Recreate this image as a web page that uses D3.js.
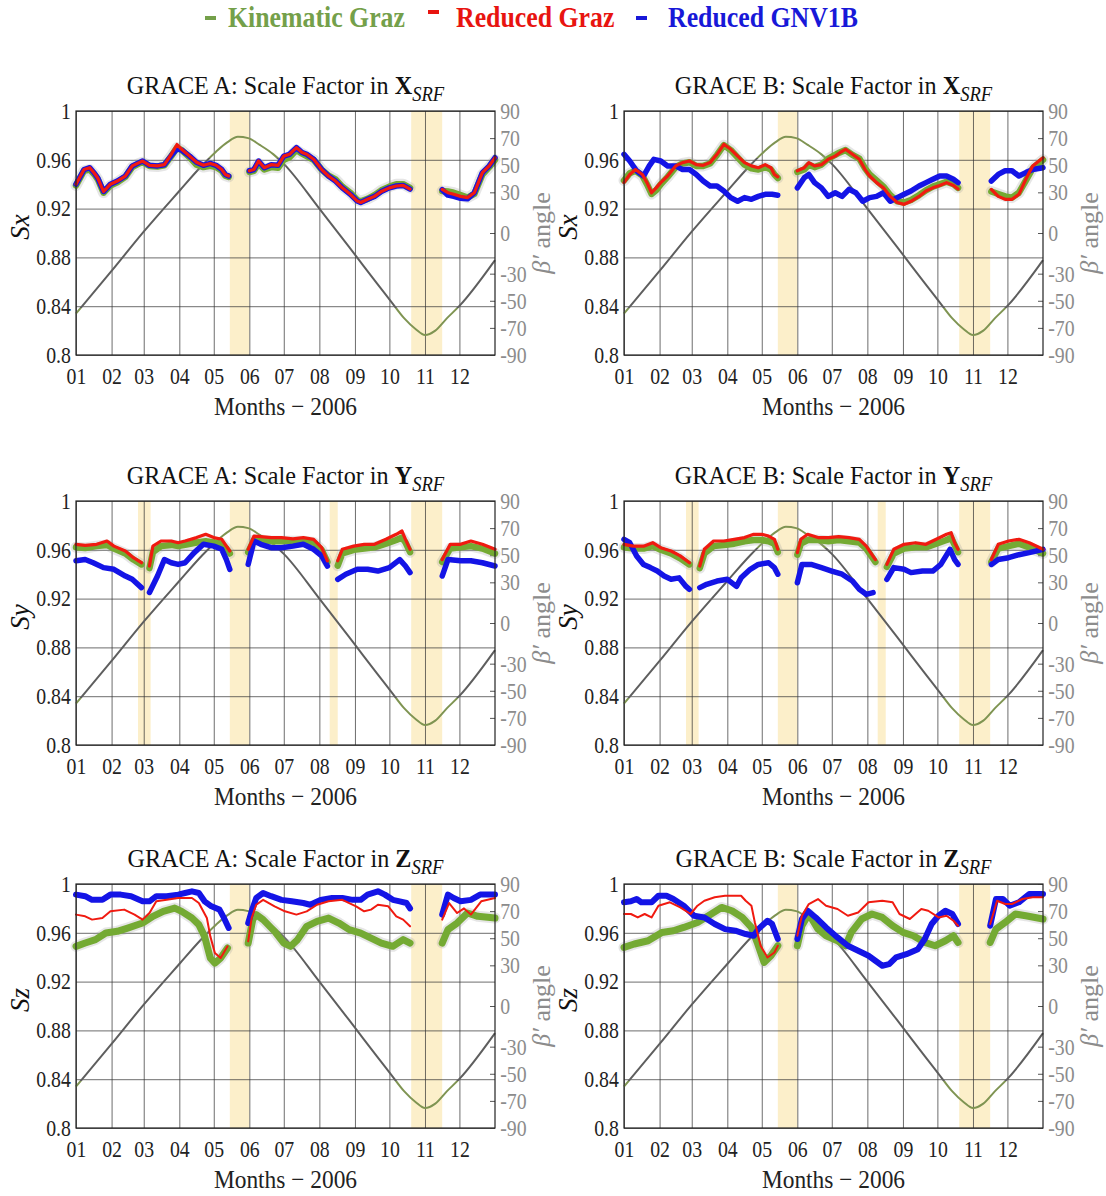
<!DOCTYPE html>
<html>
<head>
<meta charset="utf-8">
<script src="https://cdn.jsdelivr.net/npm/d3@7"></script>
<style>
  body { margin: 0; background: #fff; }
  svg { display: block; }
</style>
</head>
<body>
<svg id="chart" width="1106" height="1196"></svg>
<script>
// ---- axis ticks ----
const MONTH_TICKS = ["01", "02", "03", "04", "05", "06", "07", "08", "09", "10", "11", "12"];
const SF_TICKS = [0.8, 0.84, 0.88, 0.92, 0.96, 1];
const BETA_TICKS = [-90, -70, -50, -30, 0, 30, 50, 70, 90];

// beta' angle (day of year, degrees) - same orbit for both satellites
const betaDays = [0, 31, 59, 90, 110, 122, 132, 141, 150, 160, 172, 181, 212, 243, 262, 274, 286, 296, 304, 313, 323, 334, 365];
const betaVals = [-59.5, -28, 1, 31, 50, 60, 67, 71, 70, 65, 58, 51, 18, -16, -37, -50, -63, -71, -75.3, -72, -63, -53.8, -20];

// shaded periods (day of year)
const GAPS_MAIN = [[134, 151], [292, 319]];
const GAPS_Y = [[54, 65], [221, 228]];

// ---- scale factors, [day, value], null = data gap ----
const kinAX = [[0,.939],[7,.951],[12,.952],[16,.948],[19,.944],[24,.933],[26,.935],[30,.939],[36,.9415],[43,.946],[49,.954],[55,.957],[58,.958],[64,.955],[71,.9545],[77,.9555],[83,.963],[88,.970],[92,.968],[99,.962],[105,.956],[111,.954],[117,.955],[122,.954],[127,.951],[130,.947],[133,.946], null,
  [151,.950],[155,.951],[159,.957],[164,.952],[170,.954],[176,.9535],[181,.960],[186,.962],[192,.968],[197,.965],[201,.963],[207,.960],[214,.952],[220,.947],[226,.944],[232,.938],[239,.933],[245,.927],[248,.926],[254,.928],[260,.931],[266,.935],[273,.938],[279,.940],[285,.940],[291,.937], null,
  [319,.9345],[324,.934],[329,.933],[335,.931],[341,.929],[347,.932],[354,.948],[360,.954],[365,.960]];
const redAX = [[0,.940],[7,.952],[12,.9535],[16,.949],[19,.945],[24,.934],[26,.936],[30,.940],[36,.9426],[43,.9467],[49,.955],[55,.9577],[58,.959],[64,.9555],[71,.955],[77,.956],[83,.9645],[88,.9725],[92,.9686],[99,.963],[105,.958],[111,.9555],[117,.957],[122,.9555],[127,.952],[130,.948],[133,.9467], null,
  [151,.951],[155,.952],[159,.959],[164,.9535],[170,.956],[176,.9555],[181,.963],[186,.9645],[192,.970],[197,.966],[201,.9645],[207,.9604],[214,.952],[220,.9467],[226,.9426],[232,.937],[239,.9317],[245,.9262],[248,.925],[254,.9276],[260,.930],[266,.934],[273,.937],[279,.9385],[285,.939],[291,.936], null,
  [319,.9358],[324,.933],[329,.9317],[335,.930],[341,.929],[347,.933],[354,.9495],[360,.955],[365,.9617]];
const gnvAX = [[0,.940],[7,.952],[12,.9535],[16,.949],[19,.945],[24,.934],[26,.936],[30,.940],[36,.9426],[43,.9467],[49,.955],[55,.9577],[58,.959],[64,.9555],[71,.955],[77,.956],[83,.9635],[88,.969],[92,.968],[99,.963],[105,.958],[111,.9555],[117,.957],[122,.9555],[127,.952],[130,.948],[133,.9467], null,
  [151,.951],[155,.952],[159,.959],[164,.9535],[170,.956],[176,.9555],[181,.963],[186,.9645],[192,.970],[197,.966],[201,.9645],[207,.9604],[214,.952],[220,.9467],[226,.9426],[232,.937],[239,.9317],[245,.9262],[248,.925],[254,.9276],[260,.930],[266,.934],[273,.937],[279,.9385],[285,.939],[291,.936], null,
  [319,.9355],[324,.931],[329,.930],[335,.9285],[341,.928],[347,.933],[354,.9495],[360,.955],[365,.9617]];

const kinBX = [[0,.943],[5,.949],[10,.951],[16,.947],[20,.940],[24,.932],[28,.935],[32,.940],[38,.946],[45,.954],[51,.957],[57,.958],[63,.955],[69,.955],[75,.957],[81,.964],[87,.972],[93,.968],[99,.962],[105,.956],[111,.953],[117,.952],[123,.954],[128,.952],[131,.948],[134,.945], null,
  [151,.950],[157,.952],[161,.956],[166,.954],[172,.956],[178,.961],[184,.964],[188,.966],[193,.968],[199,.964],[205,.961],[210,.953],[214,.948],[220,.943],[226,.938],[232,.931],[238,.926],[244,.925],[250,.927],[257,.931],[263,.935],[269,.938],[275,.940],[281,.942],[287,.940],[291,.937], null,
  [320,.934],[326,.932],[332,.930],[338,.929],[344,.933],[350,.943],[356,.953],[365,.960]];
const redBX = [[0,.9413],[5,.948],[10,.952],[16,.948],[20,.9413],[24,.933],[28,.937],[32,.9413],[38,.9467],[45,.955],[51,.9577],[57,.959],[63,.956],[69,.9555],[75,.9577],[81,.9645],[87,.9727],[93,.9686],[99,.963],[105,.9577],[111,.955],[117,.9535],[123,.956],[128,.9535],[131,.948],[134,.946], null,
  [151,.951],[157,.9535],[161,.9577],[166,.955],[172,.956],[178,.9604],[184,.963],[188,.9658],[193,.9686],[199,.9645],[205,.9604],[210,.952],[214,.9467],[220,.9413],[226,.937],[232,.930],[238,.925],[244,.9235],[250,.926],[257,.930],[263,.9344],[269,.937],[275,.939],[281,.9413],[287,.939],[291,.936], null,
  [320,.9358],[326,.930],[332,.9276],[338,.9276],[344,.9317],[350,.944],[356,.955],[365,.9617]];
const gnvBX = [[0,.9645],[5,.959],[11,.951],[17,.9467],[22,.955],[26,.9604],[32,.959],[38,.955],[45,.955],[51,.952],[57,.952],[63,.948],[69,.9426],[75,.9385],[81,.9385],[87,.9344],[93,.929],[99,.926],[105,.929],[111,.9276],[117,.930],[123,.9317],[129,.9317],[134,.931], null,
  [151,.937],[157,.9453],[161,.948],[166,.9413],[172,.937],[178,.930],[184,.933],[190,.930],[196,.9358],[202,.933],[208,.926],[214,.929],[220,.930],[226,.933],[232,.926],[238,.929],[244,.9317],[250,.9344],[257,.9385],[263,.9413],[269,.944],[275,.9467],[281,.9467],[287,.944],[291,.9413], null,
  [320,.9426],[326,.948],[332,.951],[338,.951],[344,.9467],[350,.9495],[356,.952],[365,.9535]];

const kinAY = [[0,.962],[8,.9615],[18,.963],[27,.964],[33,.961],[43,.957],[50,.952],[57,.948], null,
  [64,.945],[67,.958],[74,.963],[83,.964],[89,.963],[95,.964],[105,.966],[113,.967],[120,.966],[127,.965],[131,.961],[134,.957], null,
  [150,.958],[155,.968],[161,.968],[170,.967],[179,.967],[189,.967],[198,.967],[207,.966],[214,.960],[219,.950], null,
  [228,.947],[232,.957],[242,.960],[251,.961],[260,.962],[270,.965],[279,.968],[284,.970],[287,.966],[291,.958], null,
  [319,.950],[326,.961],[335,.962],[344,.963],[354,.961],[365,.957]];
const redAY = [[0,.9645],[8,.9637],[18,.9645],[27,.9672],[33,.963],[43,.959],[50,.9535],[57,.9494], null,
  [64,.9467],[67,.963],[74,.9672],[83,.9672],[89,.9658],[95,.9672],[105,.970],[113,.9727],[120,.970],[127,.9686],[131,.963],[134,.959], null,
  [150,.9604],[155,.9713],[161,.9708],[170,.970],[179,.970],[189,.969],[198,.970],[207,.9686],[214,.9617],[219,.951], null,
  [228,.951],[232,.9604],[242,.963],[251,.9645],[260,.9645],[270,.9686],[279,.9727],[284,.9754],[287,.9686],[291,.9604], null,
  [319,.952],[326,.9645],[335,.9645],[344,.9672],[354,.9645],[365,.9604]];
const gnvAY = [[0,.951],[8,.952],[15,.9494],[24,.9454],[33,.944],[43,.9385],[49,.9358],[57,.929], null,
  [64,.925],[71,.9385],[77,.952],[83,.9494],[89,.948],[95,.9494],[103,.9577],[111,.9645],[120,.963],[127,.9604],[131,.952],[134,.944], null,
  [150,.948],[155,.9672],[161,.9645],[170,.9617],[179,.9617],[189,.963],[198,.9645],[207,.9604],[214,.955],[219,.9467], null,
  [228,.9358],[235,.940],[245,.944],[254,.944],[263,.9426],[273,.9454],[282,.952],[287,.9467],[291,.9413], null,
  [319,.9385],[324,.952],[335,.951],[344,.951],[354,.9494],[365,.9467]];

const kinBY = [[0,.962],[8,.961],[17,.961],[25,.963],[32,.960],[41,.957],[49,.953],[57,.948], null,
  [66,.945],[70,.957],[78,.963],[87,.964],[96,.965],[105,.967],[113,.968],[120,.968],[126,.967],[131,.965],[134,.958], null,
  [151,.956],[154,.965],[160,.968],[169,.968],[178,.967],[187,.968],[196,.967],[205,.966],[211,.961],[219,.950], null,
  [229,.946],[235,.957],[244,.961],[254,.962],[263,.962],[272,.965],[281,.968],[285,.970],[288,.964],[291,.958], null,
  [320,.950],[326,.961],[335,.963],[344,.965],[353,.962],[365,.957]];
const redBY = [[0,.9645],[8,.963],[17,.963],[25,.9658],[32,.9617],[41,.959],[49,.955],[57,.9494], null,
  [66,.9467],[70,.9604],[78,.9672],[87,.9672],[96,.9686],[105,.970],[113,.9727],[120,.9727],[126,.9713],[131,.9686],[134,.9604], null,
  [151,.9577],[154,.9686],[160,.9727],[169,.970],[178,.970],[187,.9708],[196,.970],[205,.9686],[211,.963],[219,.952], null,
  [229,.948],[235,.9604],[244,.9645],[254,.9658],[263,.9645],[272,.9686],[281,.9727],[285,.974],[288,.9658],[291,.9604], null,
  [320,.952],[326,.9645],[335,.9672],[344,.9686],[353,.9658],[365,.9604]];
const gnvBY = [[0,.9686],[5,.9658],[11,.955],[17,.948],[23,.9454],[29,.9426],[35,.9385],[41,.9358],[48,.937],[54,.930],[57,.9276], null,
  [66,.929],[72,.9317],[81,.9344],[90,.9358],[98,.930],[102,.937],[110,.944],[117,.948],[126,.9494],[131,.9454],[134,.940], null,
  [151,.933],[155,.948],[163,.948],[172,.9454],[181,.9426],[190,.940],[199,.9344],[205,.9276],[211,.9235],[217,.9249], null,
  [229,.9358],[235,.9454],[244,.944],[250,.9413],[260,.9426],[269,.9426],[276,.948],[284,.9604],[288,.952],[291,.948], null,
  [320,.948],[326,.952],[335,.9535],[344,.956],[353,.9577],[365,.9604]];

const kinAZ = [[0,.9489],[8,.9516],[17,.9544],[26,.9598],[36,.9612],[45,.9639],[58,.968],[67,.9735],[76,.9776],[86,.9803],[92,.9776],[101,.9721],[107,.9667],[112,.9571],[117,.9393],[121,.9352],[126,.9393],[132,.9475], null,
  [150,.9516],[154,.9708],[157,.9749],[163,.9708],[173,.9612],[181,.9516],[187,.9489],[193,.9544],[201,.9653],[210,.9694],[220,.9721],[229,.968],[238,.9626],[248,.9598],[257,.9557],[266,.9516],[276,.9489],[285,.9544],[291,.9516], null,
  [319,.9516],[324,.9626],[332,.968],[341,.9762],[350,.9735],[365,.9721]];
const redAZ = [[0,.9749],[8,.9735],[14,.9708],[23,.9721],[30,.9776],[42,.979],[51,.9749],[58,.9708],[64,.9762],[70,.9858],[79,.987],[89,.9885],[101,.9885],[107,.9844],[114,.9721],[117,.9571],[121,.9434],[126,.9393],[132,.9489], null,
  [150,.953],[153,.9721],[157,.983],[163,.987],[173,.9817],[182,.9776],[192,.9749],[201,.9776],[210,.983],[220,.9858],[232,.987],[244,.9817],[251,.9776],[257,.979],[263,.983],[272,.9817],[279,.9735],[285,.9708],[291,.9653], null,
  [319,.9708],[325,.9844],[332,.9762],[338,.980],[344,.9749],[353,.9858],[365,.9885]];
const gnvAZ = [[0,.9913],[8,.990],[14,.987],[23,.987],[30,.9913],[39,.9913],[48,.990],[58,.9858],[64,.9858],[70,.990],[79,.990],[89,.9913],[95,.9926],[101,.994],[107,.9926],[112,.9858],[118,.9817],[125,.979],[129,.972],[133,.964], null,
  [150,.968],[153,.9776],[157,.9885],[163,.9926],[170,.990],[179,.987],[188,.9858],[198,.9844],[204,.983],[213,.987],[223,.9885],[232,.9885],[241,.987],[248,.987],[254,.9913],[263,.994],[269,.9913],[276,.987],[282,.9858],[288,.9844],[291,.980], null,
  [319,.9749],[324,.9913],[329,.9885],[335,.9858],[344,.987],[352,.9913],[365,.9913]];

const kinBZ = [[0,.948],[9,.9508],[21,.9535],[33,.9603],[43,.9617],[52,.9644],[64,.9685],[76,.9754],[85,.9808],[94,.9781],[103,.9726],[111,.9644],[116,.9521],[122,.9357],[128,.9412],[134,.9494], null,
  [151,.9494],[155,.9658],[161,.9754],[169,.963],[176,.9576],[186,.9535],[193,.9494],[198,.9603],[207,.9713],[216,.9754],[225,.9726],[234,.9658],[243,.9603],[252,.9576],[262,.9521],[271,.9494],[280,.9535],[287,.9576],[291,.9521], null,
  [319,.9521],[324,.963],[332,.9685],[341,.9754],[350,.974],[365,.9713]];
const redBZ = [[0,.9754],[6,.9754],[12,.9726],[18,.9754],[24,.9726],[30,.9822],[40,.985],[49,.9808],[58,.9754],[64,.9822],[70,.9863],[79,.9891],[88,.9904],[102,.9904],[106,.9863],[111,.9822],[114,.9685],[119,.9494],[125,.9398],[131,.9439],[134,.9494], null,
  [151,.9576],[155,.974],[161,.9836],[169,.9877],[176,.9822],[186,.9795],[195,.974],[204,.9767],[213,.985],[225,.9863],[234,.985],[240,.9754],[249,.9713],[259,.9795],[265,.9781],[274,.9726],[281,.974],[287,.9699],[291,.9658], null,
  [319,.9672],[325,.9863],[332,.9836],[338,.9836],[347,.9877],[356,.9891],[365,.9891]];
const gnvBZ = [[0,.985],[6,.9858],[11,.9877],[15,.985],[24,.985],[30,.9904],[37,.9904],[43,.9877],[52,.9822],[61,.974],[70,.9726],[79,.9672],[88,.963],[97,.9617],[106,.959],[113,.9576],[117,.963],[125,.9699],[129,.9672],[134,.9549], null,
  [151,.9549],[155,.9713],[160,.9781],[167,.9726],[176,.9644],[186,.9562],[195,.9494],[204,.9453],[213,.9412],[219,.9371],[225,.933],[231,.9343],[237,.9398],[246,.9425],[256,.9466],[262,.9549],[268,.9672],[274,.974],[280,.9781],[286,.9754],[291,.9672], null,
  [319,.9658],[324,.9877],[330,.9877],[336,.9822],[344,.985],[353,.9918],[365,.9918]];

// ---- layout / style ----
const FONT = "'Liberation Serif', 'Times New Roman', 'DejaVu Serif', serif";
const C_KIN = "#74aa33";
const C_RED = "#f01a10";
const C_GNV = "#1414e6";
const C_BETA = "#5e5e5e";
const C_BETA_HI = "#7f9452";
const C_SHADE = "#fcefca";
const C_RIGHT = "#8c8c8c";

const COLS = [{ left: 76, right: 495 }, { left: 624, right: 1043 }];
const ROWS = [{ top: 111, bottom: 355 }, { top: 501, bottom: 745 }, { top: 884, bottom: 1128 }];

const panels = [
  { row: 0, col: 0, sat: "A", comp: "X", ylab: "x", kin: kinAX, red: redAX, gnv: gnvAX, gaps: GAPS_MAIN },
  { row: 0, col: 1, sat: "B", comp: "X", ylab: "x", kin: kinBX, red: redBX, gnv: gnvBX, gaps: GAPS_MAIN },
  { row: 1, col: 0, sat: "A", comp: "Y", ylab: "y", kin: kinAY, red: redAY, gnv: gnvAY, gaps: GAPS_MAIN.concat(GAPS_Y) },
  { row: 1, col: 1, sat: "B", comp: "Y", ylab: "y", kin: kinBY, red: redBY, gnv: gnvBY, gaps: GAPS_MAIN.concat(GAPS_Y) },
  { row: 2, col: 0, sat: "A", comp: "Z", ylab: "z", kin: kinAZ, red: redAZ, gnv: gnvAZ, gaps: GAPS_MAIN },
  { row: 2, col: 1, sat: "B", comp: "Z", ylab: "z", kin: kinBZ, red: redBZ, gnv: gnvBZ, gaps: GAPS_MAIN },
];

const svg = d3.select("#chart");
const t0 = Date.UTC(2006, 0, 1);
const toDate = (day) => d3.utcDay.offset(new Date(t0), day);
const monthStarts = d3.utcMonth.range(new Date(t0), new Date(Date.UTC(2006, 11, 2)));
const betaData = betaDays.map((d, i) => [d, betaVals[i]]);

// text squeezed horizontally like the source figure
const sq = (sel, sx) => sel.attr("transform", `scale(${sx},1)`);

panels.forEach((p, idx) => {
  const c = COLS[p.col], r = ROWS[p.row];
  const w = c.right - c.left, h = r.bottom - r.top;

  const x = d3.scaleUtc().domain([new Date(t0), new Date(Date.UTC(2007, 0, 1))]).range([0, w]);
  const y = d3.scaleLinear().domain([0.8, 1]).range([h, 0]);
  const yb = d3.scaleLinear().domain([-90, 90]).range([h, 0]);

  const g = svg.append("g").attr("transform", `translate(${c.left},${r.top})`);

  // shaded periods
  g.append("g")
    .selectAll("rect")
    .data(p.gaps)
    .join("rect")
    .attr("x", (d) => x(toDate(d[0])))
    .attr("y", 0)
    .attr("width", (d) => x(toDate(d[1])) - x(toDate(d[0])))
    .attr("height", h)
    .attr("fill", C_SHADE);

  // x axis + vertical grid
  const xa = g.append("g")
    .attr("transform", `translate(0,${h})`)
    .call(d3.axisBottom(x).tickValues(monthStarts).tickSize(-h).tickPadding(13)
      .tickFormat((d, i) => MONTH_TICKS[i]));
  xa.select(".domain").remove();
  xa.selectAll(".tick line").attr("stroke", "#333").attr("stroke-width", 0.9).attr("stroke-opacity", 0.8);
  xa.selectAll(".tick text").attr("font-family", FONT).attr("font-size", 23).attr("fill", "#222").call(sq, 0.86);

  // left axis + horizontal grid
  const ya = g.append("g")
    .call(d3.axisLeft(y).tickValues(SF_TICKS).tickSize(-w).tickPadding(6)
      .tickFormat((v) => String(v)));
  ya.select(".domain").remove();
  ya.selectAll(".tick line").attr("stroke", "#333").attr("stroke-width", 0.9).attr("stroke-opacity", 0.8);
  ya.selectAll(".tick text").attr("font-family", FONT).attr("font-size", 23).attr("fill", "#222").call(sq, 0.86);

  // right axis (beta')
  const yr = g.append("g")
    .attr("transform", `translate(${w},0)`)
    .call(d3.axisRight(yb).tickValues(BETA_TICKS).tickSize(-5).tickPadding(6)
      .tickFormat((v) => String(v)));
  yr.select(".domain").remove();
  yr.selectAll(".tick line").attr("stroke", "#555");
  yr.selectAll(".tick text").attr("font-family", FONT).attr("font-size", 23).attr("fill", C_RIGHT).call(sq, 0.86);

  // beta' curve, olive tint near the extremes
  const gid = `betaGrad${idx}`;
  const grad = svg.append("defs").append("linearGradient")
    .attr("id", gid).attr("gradientUnits", "userSpaceOnUse")
    .attr("x1", 0).attr("x2", 0).attr("y1", 0).attr("y2", h);
  const hi = (90 - 55) / 180, lo = (90 + 55) / 180;
  [[0, C_BETA_HI], [hi, C_BETA_HI], [hi, C_BETA], [lo, C_BETA], [lo, C_BETA_HI], [1, C_BETA_HI]]
    .forEach(([o, col]) => grad.append("stop").attr("offset", o).attr("stop-color", col));

  g.append("path")
    .datum(betaData)
    .attr("fill", "none")
    .attr("stroke", `url(#${gid})`)
    .attr("stroke-width", 2)
    .attr("d", d3.line().x((d) => x(toDate(d[0]))).y((d) => yb(d[1])).curve(d3.curveMonotoneX));

  // scale factor series
  const sfLine = d3.line()
    .defined((d) => d !== null)
    .x((d) => x(toDate(d[0])))
    .y((d) => y(d[1]))
    .curve(d3.curveLinear);
  const isZ = p.comp === "Z";

  g.append("path").datum(p.kin).attr("fill", "none")
    .attr("stroke", "#9a9a9a").attr("stroke-opacity", 0.25).attr("stroke-width", 11)
    .attr("stroke-linejoin", "round").attr("stroke-linecap", "round").attr("d", sfLine);
  g.append("path").datum(p.kin).attr("fill", "none")
    .attr("stroke", C_KIN).attr("stroke-width", isZ ? 7 : 6.5)
    .attr("stroke-linejoin", "round").attr("stroke-linecap", "round").attr("d", sfLine);
  g.append("path").datum(p.gnv).attr("fill", "none")
    .attr("stroke", C_GNV).attr("stroke-width", isZ ? 6 : 5.5)
    .attr("stroke-linejoin", "round").attr("stroke-linecap", "round").attr("d", sfLine);
  g.append("path").datum(p.red).attr("fill", "none")
    .attr("stroke", C_RED).attr("stroke-width", isZ ? 2 : 3.2)
    .attr("stroke-linejoin", "round").attr("stroke-linecap", "round").attr("d", sfLine);

  // box
  g.append("rect").attr("width", w).attr("height", h)
    .attr("fill", "none").attr("stroke", "#222").attr("stroke-width", 1.2);

  // titles and labels
  const title = g.append("text")
    .attr("font-family", FONT).attr("font-size", 26).attr("fill", "#111")
    .attr("text-anchor", "middle")
    .attr("transform", `translate(${w / 2},${-17}) scale(0.93,1)`);
  title.append("tspan").text(`GRACE ${p.sat}: Scale Factor in `);
  title.append("tspan").attr("font-weight", "bold").text(p.comp);
  title.append("tspan").attr("font-style", "italic").attr("font-size", 20).attr("dy", 7).text("SRF");

  g.append("text")
    .attr("font-family", FONT).attr("font-size", 26).attr("fill", "#222")
    .attr("text-anchor", "middle")
    .attr("transform", `translate(${w / 2},${h + 60}) scale(0.9,1)`)
    .text("Months \u2212 2006");

  const yl = g.append("text")
    .attr("font-family", FONT).attr("font-size", 27).attr("font-style", "italic").attr("fill", "#111")
    .attr("text-anchor", "middle")
    .attr("transform", `translate(${-47},${h / 2 - 6}) rotate(-90)`);
  yl.append("tspan").text("S");
  yl.append("tspan").text(p.ylab);

  const bl = g.append("text")
    .attr("font-family", FONT).attr("font-size", 26).attr("fill", C_RIGHT)
    .attr("text-anchor", "middle")
    .attr("transform", `translate(${w + 55},${h / 2}) rotate(-90)`);
  bl.append("tspan").attr("font-style", "italic").text("\u03b2\u2032");
  bl.append("tspan").text(" angle");
});

// ---- legend ----
const legendItems = [
  { name: "Kinematic Graz", color: "#74a04a", dash: 205, dy: 18, text: 228 },
  { name: "Reduced Graz", color: "#e81410", dash: 428, dy: 12, text: 456 },
  { name: "Reduced GNV1B", color: "#1818d8", dash: 636, dy: 18, text: 668 },
];
const lg = svg.append("g");
legendItems.forEach((d) => {
  lg.append("rect").attr("x", d.dash).attr("y", d.dy - 2).attr("width", 11).attr("height", 4).attr("fill", d.color);
  lg.append("text")
    .attr("font-family", FONT).attr("font-size", 29).attr("font-weight", "bold").attr("fill", d.color)
    .attr("transform", `translate(${d.text},27) scale(0.89,1)`)
    .text(d.name);
});
</script>
</body>
</html>
